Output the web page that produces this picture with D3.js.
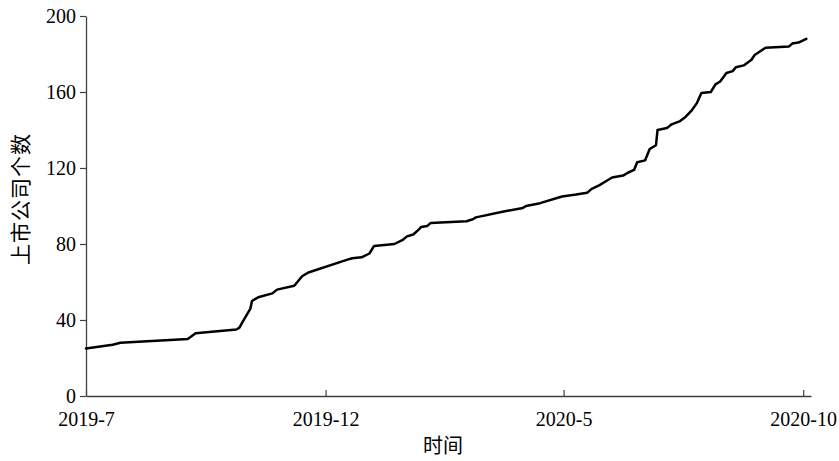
<!DOCTYPE html>
<html><head><meta charset="utf-8">
<script src="https://cdn.jsdelivr.net/npm/d3@7"></script>
<style>body{margin:0;background:#fff}svg{display:block}</style>
</head><body>
<script>
const dates = ["2019-07-22","2019-08-08","2019-08-13","2019-09-25","2019-09-30","2019-10-26","2019-10-28","2019-10-30","2019-11-04","2019-11-05","2019-11-09","2019-11-18","2019-11-21","2019-12-02","2019-12-04","2019-12-07","2019-12-11","2020-01-04","2020-01-08","2020-01-14","2020-01-19","2020-01-22","2020-02-04","2020-02-09","2020-02-12","2020-02-16","2020-02-20","2020-02-21","2020-02-25","2020-02-27","2020-03-21","2020-03-25","2020-03-27","2020-04-13","2020-04-26","2020-04-28","2020-05-07","2020-05-21","2020-05-30","2020-06-06","2020-06-09","2020-06-14","2020-06-18","2020-06-22","2020-06-29","2020-07-02","2020-07-06","2020-07-08","2020-07-13","2020-07-16","2020-07-20","2020-07-21","2020-07-27","2020-07-30","2020-08-04","2020-08-08","2020-08-12","2020-08-15","2020-08-18","2020-08-24","2020-08-27","2020-08-30","2020-09-03","2020-09-07","2020-09-09","2020-09-14","2020-09-19","2020-09-21","2020-09-28","2020-10-13","2020-10-15","2020-10-19","2020-10-24"];
const counts = [25,27,28,30,33,35,36,39,46,50,52,54,56,58,60,63,65,71.5,72.5,73,75,79,80,82,84,85,88,89,89.5,91,92,93,94,97,99,100,101.5,105,106,107,109,111,113,115,116,117.5,119,123,124,130,132,140,141,143,144.5,147,150.5,154,159.5,160,164,165.5,170,171,173,174,177,179.5,183.3,184,185.5,186,188];
const xTickDates = ["2019-07-22","2019-12-22","2020-05-22","2020-10-22"];
const xTickLabels = ["2019-7","2019-12","2020-5","2020-10"];
const yTicks = [0,40,80,120,160,200];
const xTitle = "时间";
const yTitle = "上市公司个数";

const W = 839, H = 461;
const parse = d3.timeParse("%Y-%m-%d");
const data = dates.map((d,i)=>({date:parse(d), v:counts[i]}));

const svg = d3.select("body").append("svg").attr("width",W).attr("height",H);
const x = d3.scaleTime().domain([parse("2019-07-22"), parse("2020-10-27")]).range([86, 811]);
const y = d3.scaleLinear().domain([0,200]).range([396,16]);
const serif = "'Liberation Serif','Times New Roman',serif";
const axisColor = "#404040";

const xAxis = d3.axisBottom(x)
  .tickValues(xTickDates.map(parse))
  .tickFormat((d,i)=>xTickLabels[i])
  .tickSizeInner(-6).tickSizeOuter(0);
const gx = svg.append("g").attr("transform","translate(0,396)").call(xAxis);
gx.select(".domain").attr("stroke",axisColor).attr("stroke-width",1.3);
gx.selectAll(".tick line").attr("stroke",axisColor).attr("stroke-width",1.2);
gx.selectAll(".tick text").attr("y",16).attr("dy","0.71em")
  .attr("font-family",serif).attr("font-size",20).attr("fill","#000");

const yAxis = d3.axisLeft(y).tickValues(yTicks).tickSizeInner(6).tickSizeOuter(0).tickPadding(4);
const gy = svg.append("g").attr("transform","translate(86,0)").call(yAxis);
gy.select(".domain").attr("stroke",axisColor).attr("stroke-width",1.3);
gy.selectAll(".tick line").attr("stroke",axisColor).attr("stroke-width",1.2);
gy.selectAll(".tick text").attr("font-family",serif).attr("font-size",20).attr("fill","#000");

const line = d3.line().x(d=>x(d.date)).y(d=>y(d.v));
svg.append("path").datum(data).attr("d",line)
  .attr("fill","none").attr("stroke","#000").attr("stroke-width",2.5)
  .attr("stroke-linejoin","round").attr("stroke-linecap","round");

svg.append("text").attr("x",443).attr("y",453).attr("text-anchor","middle")
  .attr("font-family","'Noto Sans CJK SC',sans-serif").attr("font-size",20).attr("fill","#000")
  .text(xTitle);
svg.append("text").attr("transform","translate(28,199) rotate(-90)").attr("text-anchor","middle")
  .attr("font-family","'Noto Sans CJK SC',sans-serif").attr("font-size",21)
  .attr("letter-spacing","1px").attr("fill","#000")
  .text(yTitle);
</script>
</body></html>
